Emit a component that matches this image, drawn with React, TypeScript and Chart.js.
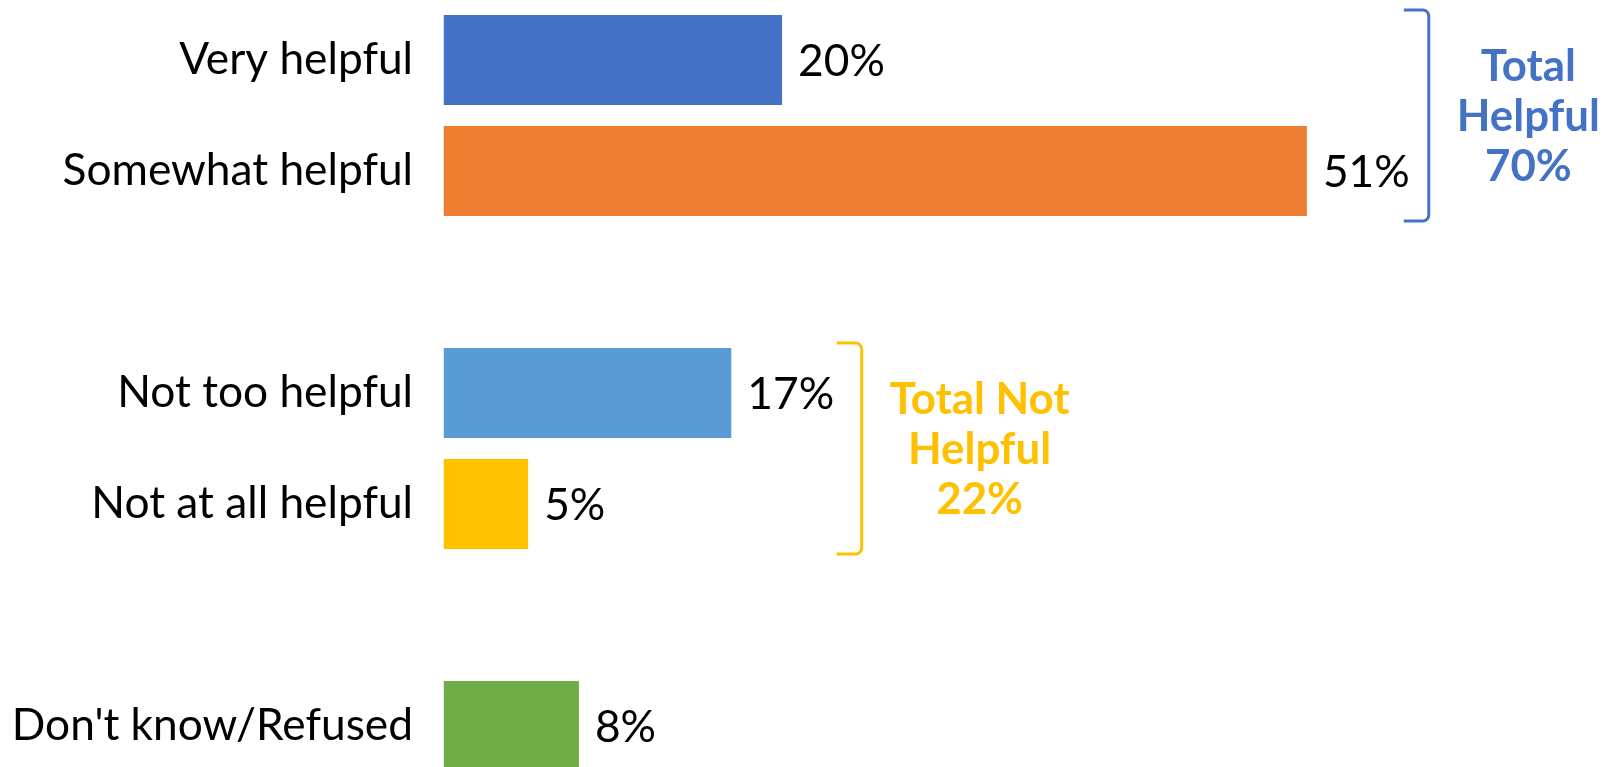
import React, { useEffect, useRef } from "react";
import { Chart, registerables } from "chart.js";

Chart.register(...registerables);

// ---- data ----
const categories = [
  "Very helpful",
  "Somewhat helpful",
  "",
  "Not too helpful",
  "Not at all helpful",
  "",
  "Don't know/Refused",
];
const values: (number | null)[] = [20, 51, null, 17, 5, null, 8];
const barColors = ["#4472C4", "#ED7D31", "rgba(0,0,0,0)", "#5B9BD5", "#FFC000", "rgba(0,0,0,0)", "#70AD47"];

const groupLines = [
  ["Total", "Helpful", "70%"],
  ["Total Not", "Helpful", "22%"],
];
const groupFirstIndex = [0, 3];
const groupLastIndex = [1, 4];
const groupColors = ["#4472C4", "#FFC000"];

const FAMILY = "Lato, 'Open Sans', sans-serif";

function measure(text: string, weight: string, size: number) {
  const c = document.createElement("canvas").getContext("2d")!;
  c.font = `${weight} ${size}px ${FAMILY}`;
  return c.measureText(text).width;
}

export default function App() {
  const ref = useRef<HTMLCanvasElement | null>(null);

  useEffect(() => {
    if (!ref.current) return;
    // fit font sizes to the reference text widths
    const regW = measure("Somewhat helpful", "normal", 100) + measure("Don't know/Refused", "normal", 100);
    const regSize = (100 * (354 + 398)) / regW;
    const boldW = measure("Total Not", "bold", 100) + measure("Helpful", "bold", 100);
    const boldSize = (100 * (181 + 142)) / boldW;

    const bracketValue = [58.2, 24.7];

    const valueLabels = {
      id: "valueLabels",
      afterDatasetsDraw(chart: any) {
        const ctx = chart.ctx;
        const meta = chart.getDatasetMeta(0);
        ctx.save();
        ctx.font = `normal ${regSize}px ${FAMILY}`;
        ctx.fillStyle = "#000000";
        ctx.textBaseline = "middle";
        ctx.textAlign = "left";
        meta.data.forEach((bar: any, i: number) => {
          const v = values[i];
          if (v == null) return;
          const p = bar.getProps(["x", "y"], true);
          ctx.fillText(`${v}%`, p.x + 16, p.y + 2);
        });
        ctx.restore();
      },
    };

    const brackets = {
      id: "brackets",
      afterDatasetsDraw(chart: any) {
        const ctx = chart.ctx;
        const meta = chart.getDatasetMeta(0);
        const xs = chart.scales.x;
        groupLines.forEach((lines, g) => {
          const b0 = meta.data[groupFirstIndex[g]].getProps(["y", "height"], true);
          const b1 = meta.data[groupLastIndex[g]].getProps(["y", "height"], true);
          const top = b0.y - b0.height / 2 - 5;
          const bottom = b1.y + b1.height / 2 + 5;
          const x = xs.getPixelForValue(bracketValue[g]);
          const arm = 25;
          const r = 6;
          ctx.save();
          ctx.strokeStyle = groupColors[g];
          ctx.lineWidth = 3;
          ctx.beginPath();
          ctx.moveTo(x - arm, top);
          ctx.lineTo(x - r, top);
          ctx.arcTo(x, top, x, top + r, r);
          ctx.lineTo(x, bottom - r);
          ctx.arcTo(x, bottom, x - r, bottom, r);
          ctx.lineTo(x - arm, bottom);
          ctx.stroke();

          ctx.font = `bold ${boldSize}px ${FAMILY}`;
          ctx.fillStyle = groupColors[g];
          ctx.textAlign = "center";
          ctx.textBaseline = "middle";
          const maxW = Math.max(...lines.map((l) => ctx.measureText(l).width));
          const cx = x + 28 + maxW / 2;
          const mid = (top + bottom) / 2;
          const lh = 50;
          lines.forEach((l, i) => {
            ctx.fillText(l, cx, mid + (i - (lines.length - 1) / 2) * lh + 1);
          });
          ctx.restore();
        });
      },
    };

    const chart = new Chart(ref.current, {
      type: "bar",
      data: {
        labels: categories,
        datasets: [
          {
            data: values as any,
            backgroundColor: barColors,
            borderWidth: 0,
            barPercentage: 0.81,
            categoryPercentage: 1.0,
          },
        ],
      },
      options: {
        indexAxis: "y",
        animation: false,
        responsive: true,
        maintainAspectRatio: false,
        layout: { padding: { top: 4.5, bottom: 0.5, left: 0, right: 8.3 } },
        plugins: {
          legend: { display: false },
          tooltip: { enabled: false },
        },
        scales: {
          x: {
            display: false,
            min: 0,
            max: 68,
          },
          y: {
            grid: { display: false, drawTicks: false },
            border: { display: false },
            ticks: {
              autoSkip: false,
              padding: 30.5,
              color: "#000000",
              font: { family: FAMILY, size: regSize, weight: "normal" },
            },
            afterFit: (scale: any) => {
              scale.width = 443.5;
              scale.paddingTop = 0;
              scale.paddingBottom = 0;
            },
          },
        },
      },
      plugins: [valueLabels, brackets],
    });
    return () => chart.destroy();
  }, []);

  return (
    <div
      style={{
        position: "fixed",
        left: 0,
        top: 0,
        width: 1603,
        height: 767,
        overflow: "hidden",
        background: "#ffffff",
      }}
    >
      <div style={{ position: "relative", width: 1603, height: 782 }}>
        <canvas ref={ref} />
      </div>
    </div>
  );
}
